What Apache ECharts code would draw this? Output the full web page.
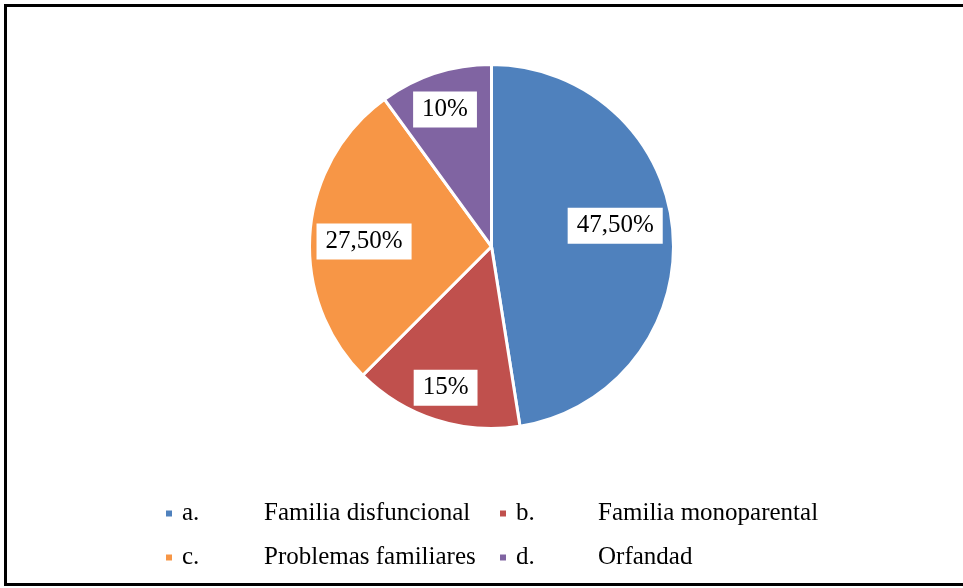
<!DOCTYPE html>
<html>
<head>
<meta charset="utf-8">
<script src="https://cdn.jsdelivr.net/npm/echarts@6/dist/echarts.min.js"></script>
<style>
  html, body { margin: 0; padding: 0; background: #fff; }
  #chart { width: 963px; height: 588px; }
</style>
</head>
<body>
<div id="chart"></div>
<script>
// data
const letters = ['a.', 'b.', 'c.', 'd.'];
const categories = ['Familia disfuncional', 'Familia monoparental', 'Problemas familiares', 'Orfandad'];
const shares = [47.5, 15, 27.5, 10];
const colors = ['#4F81BD', '#C0504D', '#F79646', '#8064A2'];
// how far out (fraction of radius) each label box sits, plus a small vertical nudge
const labelReach = [0.66, 0.79, 0.68, 0.80];
const labelNudge = [-11, 0, 5, 6];

const pieCenter = [491.5, 246.5];
const pieRadius = 182;
const serif = '"Liberation Serif", "DejaVu Serif", serif';

// legend sits in a 2x2 grid
const legendCols = [159, 493];
const legendRows = [496, 540];

const fmtShare = v => (Number.isInteger(v) ? String(v) : v.toFixed(2).replace('.', ',')) + '%';

const legendItem = (name, i) => ({
  left: legendCols[i % 2],
  top: legendRows[Math.floor(i / 2)],
  itemWidth: 8,
  itemHeight: 8,
  icon: 'rect',
  data: [name],
  formatter: n => '{p|' + letters[i] + '}{n|' + n + '}',
  textStyle: {
    rich: {
      p: { width: 82, padding: [0, 0, 0, 4], fontFamily: serif, fontSize: 25, color: '#000' },
      n: { fontFamily: serif, fontSize: 25, color: '#000' }
    }
  }
});

const chart = echarts.init(document.getElementById('chart'));

const option = {
  animation: false,
  color: colors,
  graphic: [{
    type: 'rect',
    shape: { x: 5.5, y: 5.5, width: 1000, height: 579 },
    style: { fill: 'none', stroke: '#000', lineWidth: 3 },
    silent: true
  }],
  legend: categories.map(legendItem),
  series: [{
    type: 'pie',
    center: pieCenter,
    radius: pieRadius,
    startAngle: 90,
    clockwise: true,
    itemStyle: { borderColor: '#fff', borderWidth: 3 },
    emphasis: { disabled: true },
    label: {
      show: true,
      position: 'inside',
      formatter: p => fmtShare(p.value),
      color: '#000',
      fontFamily: serif,
      fontSize: 25,
      backgroundColor: '#fff',
      padding: [6, 9, 5, 9]
    },
    labelLayout: params => {
      const r = params.labelRect;
      const lx = r.x + r.width / 2 - pieCenter[0];
      const ly = r.y + r.height / 2 - pieCenter[1];
      const k = labelReach[params.dataIndex] / 0.5 - 1;
      return { dx: lx * k, dy: ly * k + labelNudge[params.dataIndex] };
    },
    data: categories.map((name, i) => ({ name: name, value: shares[i] }))
  }]
};

chart.setOption(option);
</script>
</body>
</html>
